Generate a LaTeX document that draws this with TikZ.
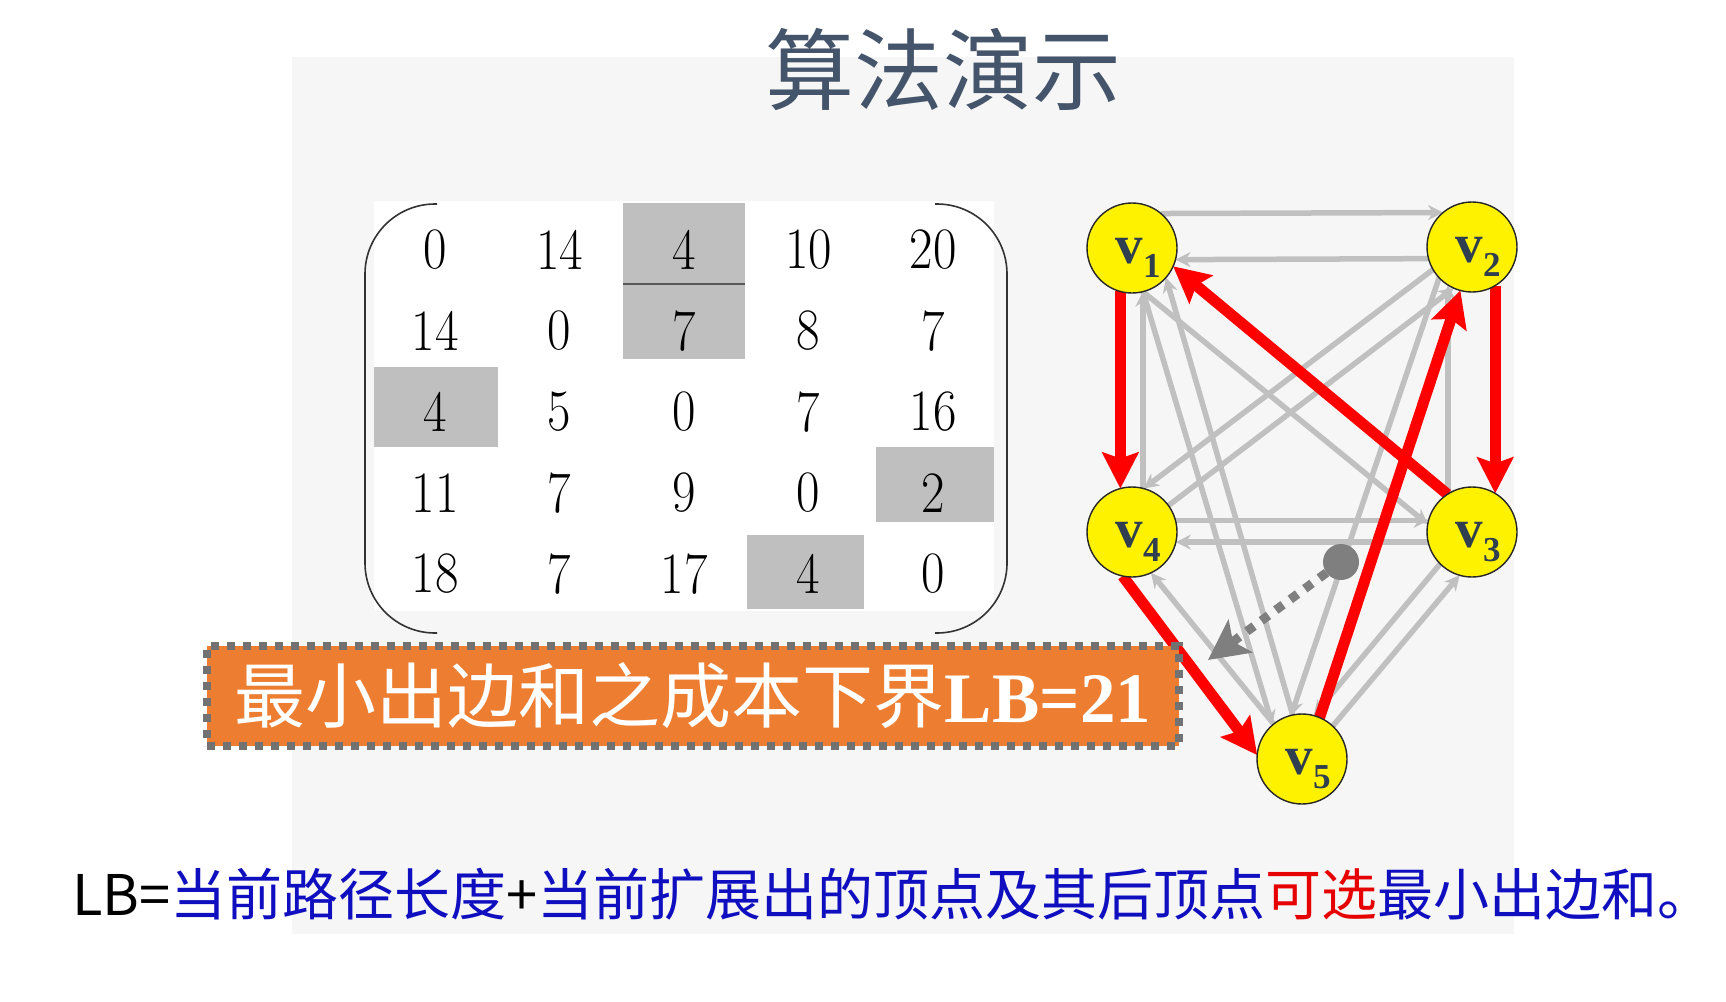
\documentclass[tikz,border=0pt]{standalone}
\usepackage{fontspec}
\usepackage{graphicx}
\newfontfamily\cjk{Noto Sans CJK SC}
\newfontfamily\lserif{Liberation Serif}
\usetikzlibrary{arrows.meta}
\definecolor{bgpanel}{HTML}{F6F6F6}
\definecolor{cellgray}{HTML}{BFBFBF}
\definecolor{edgegray}{HTML}{C0C0C0}
\definecolor{tred}{HTML}{FF0000}
\definecolor{titlec}{HTML}{44546A}
\definecolor{orangec}{HTML}{ED7D31}
\definecolor{dashc}{HTML}{727272}
\definecolor{dotc}{HTML}{7F7F7F}
\definecolor{vlabc}{HTML}{2F3F4F}
\definecolor{noteblue}{HTML}{0F0FC0}
\definecolor{notered}{HTML}{E60000}
\definecolor{parenc}{HTML}{333333}
\pgfdeclarelayer{backlayer}
\pgfdeclarelayer{edgelayer}
\pgfsetlayers{backlayer,edgelayer,main}
\newcommand\vtxlabel[1]{\hspace*{12pt}v\raisebox{-14pt}{\fontsize{35}{35}\selectfont #1}}
\tikzset{
  vert/.style={circle, draw=black!85, line width=1.4pt, fill=yellow, minimum size=90pt,
    inner sep=0pt, outer sep=0pt, text=vlabc, text height=30pt, text depth=0pt,
    font=\lserif\bfseries\fontsize{55}{55}\selectfont},
  gedge/.style={draw=edgegray, line width=5.5pt, -{Stealth[length=15pt,width=15pt]}},
  redge/.style={draw=tred, line width=11pt, -{Stealth[length=36pt,width=36pt,inset=6pt]}},
  dashedge/.style={draw=dotc, line width=9pt, dash pattern=on 9pt off 9pt,
    -{Stealth[length=40pt,width=40pt,inset=9pt]}},
  num/.style={font=\fontsize{51}{51}\selectfont, inner sep=0pt},
  obox/.style={draw=dashc, line width=8pt, dash pattern=on 8pt off 8pt, fill=orangec,
    minimum width=972pt, minimum height=100pt, inner sep=0pt, text=white},
  cell/.style={fill=cellgray},
  paren/.style={draw=parenc, line width=1.6pt, rounded corners=70pt}
}
\begin{document}
\begin{tikzpicture}[x=1pt, y=-1pt]
\useasboundingbox (0,0) rectangle (1726,1001);
\begin{pgfonlayer}{backlayer}
\fill[white] (0,0) rectangle (1726,1001);
\fill[bgpanel] (292,57) rectangle (1514,934);
\end{pgfonlayer}

% title
\node[text=titlec, font=\cjk\fontsize{89}{89}\selectfont, inner sep=0pt] (title) at (943,70) {算法演示};

% matrix
\fill[white] (374,201) rectangle (994,611);
\fill[cell] (623,203) rectangle (745,283);
\fill[cell] (623,285) rectangle (745,359);
\fill[cell] (374,367) rectangle (498,447);
\fill[cell] (876,447) rectangle (994,522);
\fill[cell] (747,535) rectangle (864,609);
\draw[draw=black!65, line width=2.5pt] (623,284) -- (745,284);
\draw[paren] (437,204) -- (365,204) -- (365,633) -- (437,633);
\draw[paren] (935,204) -- (1007,204) -- (1007,633) -- (935,633);
\foreach \rowvals [count=\r] in {{0,14,4,10,20},{14,0,7,8,7},{4,5,0,7,16},{11,7,9,0,2},{18,7,17,4,0}} {
  \foreach \val [count=\c] in \rowvals {
    \node[num] (m\r\c) at ({435+(\c-1)*124.5}, {250+(\r-1)*81}) {\scalebox{1}[1.15]{\val}};
  }
}

% orange box
\node[obox] (lb) at (693,696) {{\cjk\fontsize{71}{71}\selectfont 最小出边和之成本下界}{\lserif\bfseries\fontsize{71}{71}\selectfont LB=21}};

% graph nodes
\node[vert] (v1) at (1132,248) {\vtxlabel{1}};
\node[vert] (v2) at (1472,247) {\vtxlabel{2}};
\node[vert] (v4) at (1132,532) {\vtxlabel{4}};
\node[vert] (v3) at (1472,532) {\vtxlabel{3}};
\node[vert] (v5) at (1302,759) {\vtxlabel{5}};

\begin{pgfonlayer}{edgelayer}
% gray edges
\draw[gedge] (v1.50) -- (v2.130);
\draw[gedge] (v2.195) -- (v1.-15);
\draw[gedge] (v4.15) -- (v3.165);
\draw[gedge] (v3.193) -- (v4.-13);
\draw[gedge] (v4.76) -- (v1.284);
\draw[gedge] (v3.122) -- (v2.238);
\draw[gedge] (v1.-76) -- (v3.170);
\draw[gedge] (v2.210) -- (v4.75);
\draw[gedge] (v4.36) -- (v2.246);
\draw[gedge] (v1.-76) -- (v5.131);
\draw[gedge] (v5.102) -- (v1.-41);
\draw[gedge] (v2.223) -- (v5.104);
\draw[gedge] (v3.225) -- (v5.75);
\draw[gedge] (v5.47) -- (v3.254);
\draw[gedge] (v5.129) -- (v4.-65);
% dashed pointer
\node[circle, fill=dotc, minimum width=36pt, minimum height=34pt, inner sep=0pt, outer sep=0pt] (dot) at (1341,562) {};
\coordinate (dtip) at (1208,660);
\draw[dashedge] (dot) -- (dtip);
% red edges
\draw[redge] (v1.255) -- (v4.105);
\draw[redge] (v2.301) -- (v3.59);
\draw[redge] (v3.123) -- (v1.-24);
\draw[redge] (v4.258) -- (v5.175);
\draw[redge] (v5.67) -- (v2.255);
\end{pgfonlayer}

% bottom note
\node[inner sep=0pt, font=\cjk\fontsize{56}{56}\selectfont] (note) at (893,894)
  {LB=\textcolor{noteblue}{当前路径长度}+\textcolor{noteblue}{当前扩展出的顶点及其后顶点}\textcolor{notered}{可选}\textcolor{noteblue}{最小出边和。}};
\end{tikzpicture}
\end{document}
